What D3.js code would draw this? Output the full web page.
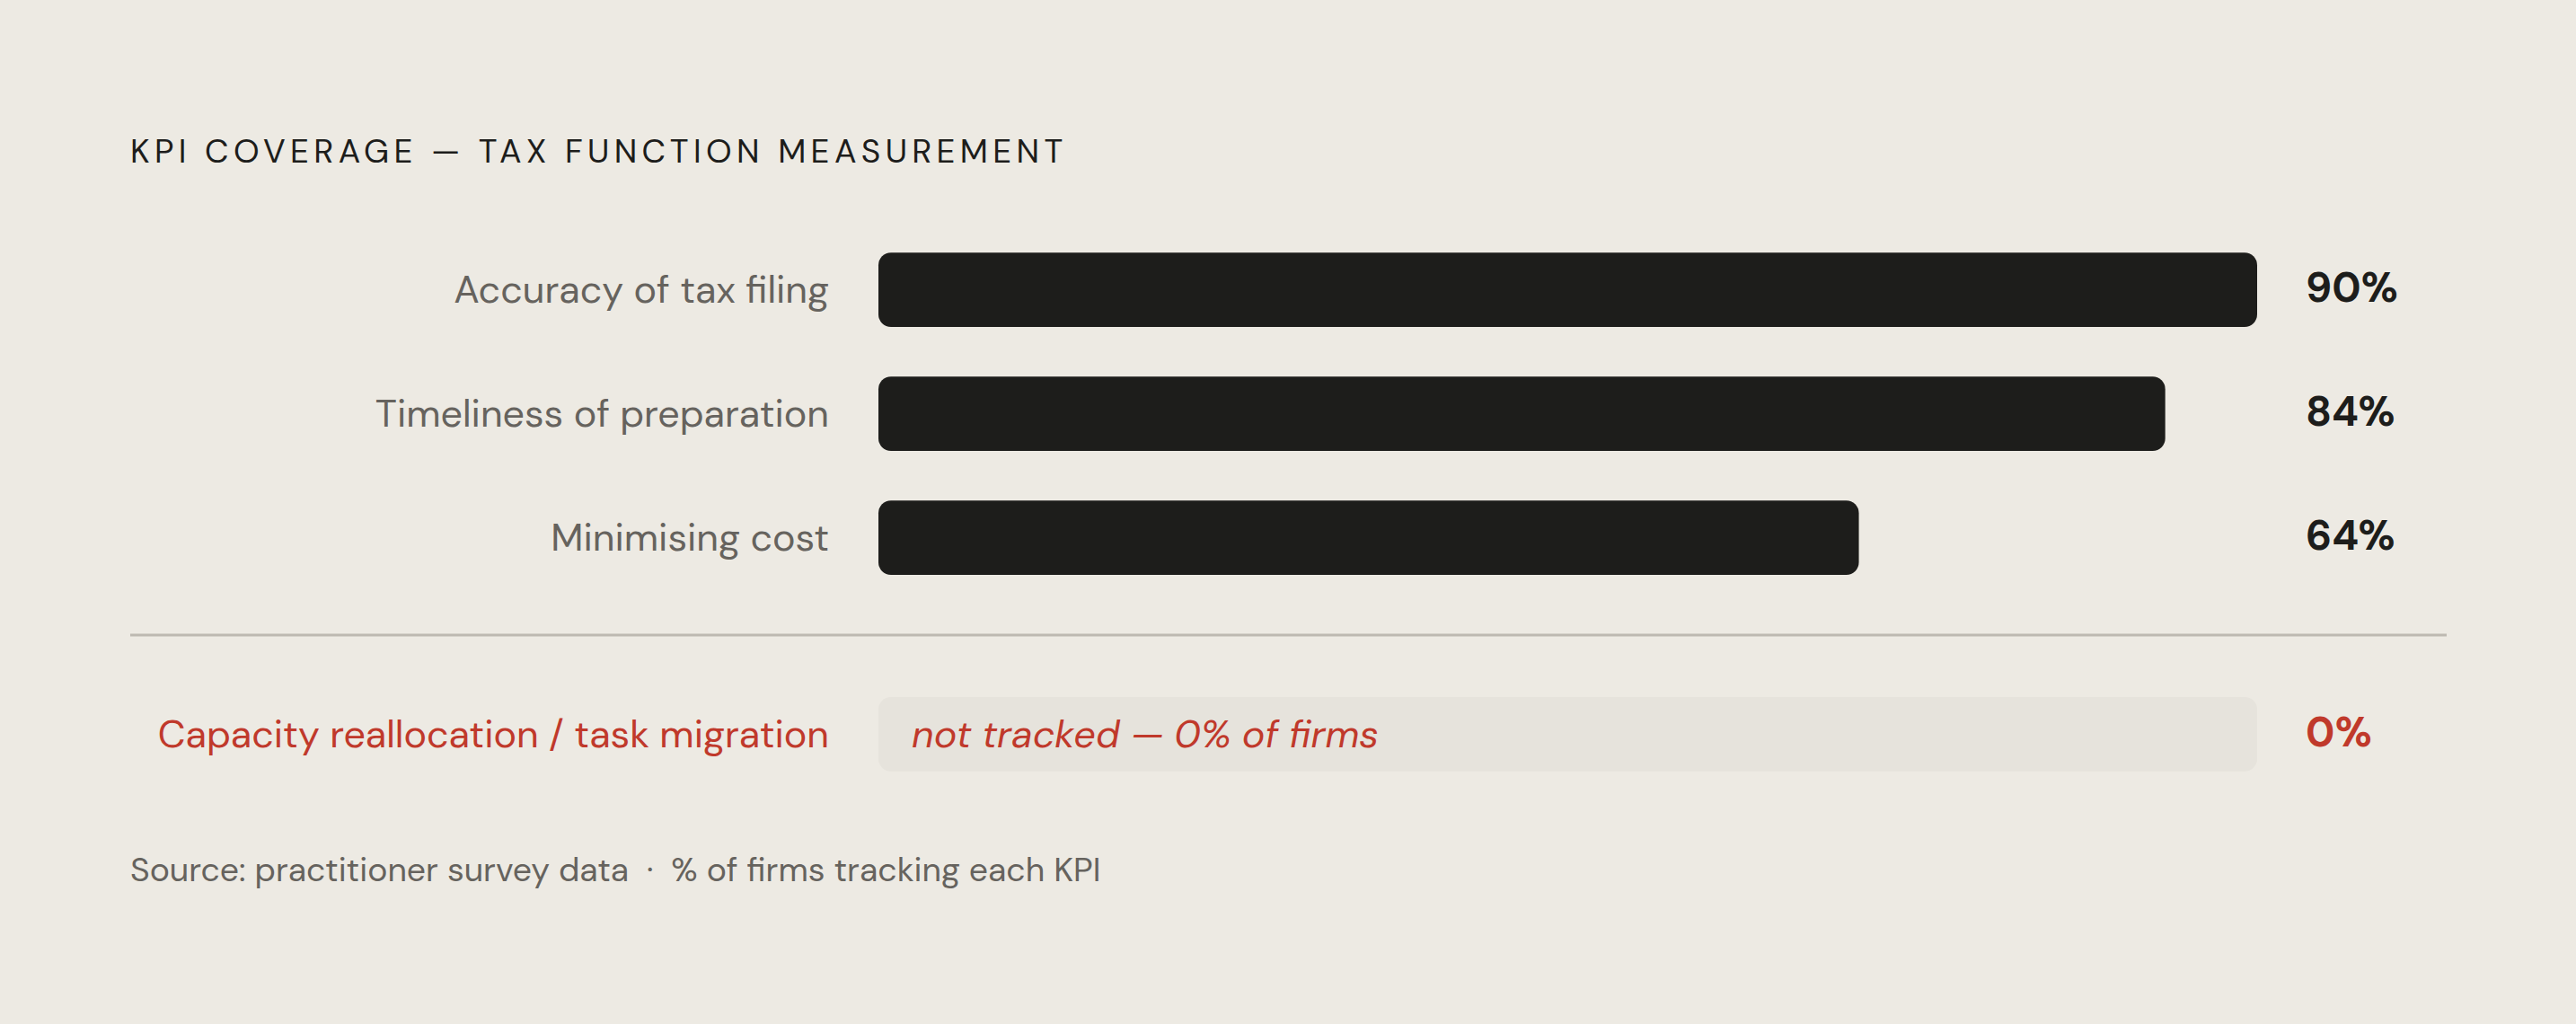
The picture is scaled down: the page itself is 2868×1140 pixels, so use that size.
<!DOCTYPE html>
<html>
<head>
<meta charset="utf-8">
<script src="https://cdn.jsdelivr.net/npm/d3@7"></script>
<style>
  body { margin: 0; background: #edeae3; }
  svg { display: block; font-family: "DM Sans", Inter, "Noto Sans", sans-serif; }
</style>
</head>
<body>
<div id="chart"></div>
<script>
// data
var categories = ["Accuracy of tax filing", "Timeliness of preparation", "Minimising cost"];
var values = [90, 84, 64];
var gapCategory = "Capacity reallocation / task migration";
var gapValue = 0;
var gapNote = "not tracked \u2014 0% of firms";
var title = "KPI COVERAGE \u2014 TAX FUNCTION MEASUREMENT";
var source = "Source: practitioner survey data  \u00b7  % of firms tracking each KPI";

var W = 2868, H = 1140;
var ink = "#1d1d1b", grey = "#66635e", red = "#c0392b";

var svg = d3.select("#chart").append("svg")
  .attr("width", W)
  .attr("height", H);

svg.append("rect").attr("width", W).attr("height", H).attr("fill", "#edeae3");

var x = d3.scaleLinear()
  .domain([0, d3.max(values)])
  .range([978, 2513]);

var y = d3.scaleBand()
  .domain(categories)
  .range([226, 226 + 138 * 3.4])
  .padding(0.4);

svg.append("text")
  .attr("x", 145)
  .attr("y", 181)
  .attr("font-size", 37)
  .attr("letter-spacing", "0.145em")
  .attr("fill", ink)
  .text(title);

var rows = svg.selectAll("g.row")
  .data(categories)
  .enter().append("g")
  .attr("class", "row")
  .attr("transform", function(d) { return "translate(0," + y(d) + ")"; });

rows.append("rect")
  .attr("x", x(0))
  .attr("y", 0)
  .attr("width", function(d, i) { return x(values[i]) - x(0); })
  .attr("height", y.bandwidth())
  .attr("rx", 14)
  .attr("fill", ink);

rows.append("text")
  .attr("x", x(0) - 55)
  .attr("y", y.bandwidth() / 2)
  .attr("dy", "0.33em")
  .attr("text-anchor", "end")
  .attr("font-size", 43)
  .attr("fill", grey)
  .text(function(d) { return d; });

rows.append("text")
  .attr("x", x.range()[1] + 54)
  .attr("y", y.bandwidth() / 2)
  .attr("dy", "0.3em")
  .attr("font-size", 46)
  .attr("font-weight", 700)
  .attr("fill", ink)
  .text(function(d, i) { return values[i] + "%"; });

// divider
var lastBottom = y(categories[categories.length - 1]) + y.bandwidth();
var divY = lastBottom + 67;
svg.append("line")
  .attr("x1", 145).attr("x2", 2724)
  .attr("y1", divY).attr("y2", divY)
  .attr("stroke", "#bdb9b1")
  .attr("stroke-width", 3);

// untracked KPI row
var gapTop = divY + 69;
var gap = svg.append("g").attr("transform", "translate(0," + gapTop + ")");

gap.append("rect")
  .attr("x", x(0))
  .attr("width", x.range()[1] - x(0))
  .attr("height", y.bandwidth())
  .attr("rx", 14)
  .attr("fill", "#e6e3dc");

gap.append("text")
  .attr("x", x(0) - 55)
  .attr("y", y.bandwidth() / 2)
  .attr("dy", "0.33em")
  .attr("text-anchor", "end")
  .attr("font-size", 43)
  .attr("fill", red)
  .text(gapCategory);

gap.append("text")
  .attr("x", x(gapValue) + 37)
  .attr("y", y.bandwidth() / 2)
  .attr("dy", "0.33em")
  .attr("font-size", 43)
  .attr("font-style", "italic")
  .attr("fill", red)
  .text(gapNote);

gap.append("text")
  .attr("x", x.range()[1] + 54)
  .attr("y", y.bandwidth() / 2)
  .attr("dy", "0.3em")
  .attr("font-size", 46)
  .attr("font-weight", 700)
  .attr("fill", red)
  .text(gapValue + "%");

svg.append("text")
  .attr("x", 145)
  .attr("y", 981)
  .attr("font-size", 37.4)
  .attr("fill", grey)
  .attr("xml:space", "preserve")
  .style("white-space", "pre")
  .text(source);
</script>
</body>
</html>
